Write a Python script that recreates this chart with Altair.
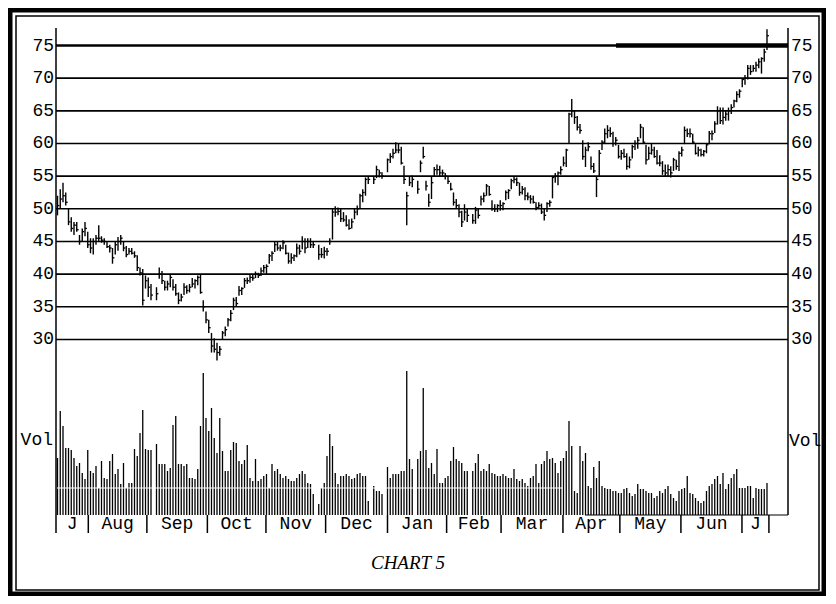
import altair as alt
import pandas as pd

# ---- daily bars (None = market holiday) ----
hi = [52, 53, 54, 52.5, 50, 48.7, 48, 48, 46, 47,
      48, 46.5, 45.5, 45.5, 46, 47.5, 45.8, 45.5, 45, 44.5,
      44, 45, 45.7, 46, 45, 44.3, 44, 44, 43.5, 42.9,
      41, 40.8, 39.8, 39.5, 38.5, None, 38, 41, 40.5, 39,
      39, 40, 39.2, 38.5, 37.2, 37, 38.6, 38.3, 38.5, 39.4,
      39.2, 39.8, 40, 36, 34.3, 33, 31, 30.2, 29.5, 29,
      31.3, 32, 33.3, 34.5, 36.4, 36.5, 38.2, 38, 39.4, 39.5,
      40, 40, 40.4, 40.2, 41, 41.4, 41.5, 43.1, 43.5, 45,
      45, 44.5, 45.2, 44.5, 43.3, 43.2, 43, 44.7, 44.5, 45.8,
      45.5, 45.5, 45.5, 45, None, 44.5, 44, 44.2, 44, 45.5,
      50, 50.4, 50.2, 50, 49.5, 49, 48.4, 48.5, 50, 50.5,
      52.3, 53, 54.8, 55, None, 55, 56.6, 56, 55.6, None,
      57.7, 58.5, 59.2, 60.2, 60, 59.5, 56.6, 52.6, 55, 55.1,
      None, 54.3, 57.4, 59.5, 54.3, 52.3, 55, 56.4, 56.8, 56.6,
      56, 55.5, 55, 54, 52.5, 51.5, 50.7, 49.7, 50.7, 50,
      None, 49.2, 50.3, 50, 52, 52.5, 53.8, 53.5, 51.3, 50.7,
      50.7, 51.3, 51, 52.8, 53, 54.6, 55, 54.8, 54, 53.5,
      53.3, 52.5, 52.1, 52, 51, 51, 50.8, 50, 51, 51.3,
      55, 55.5, 55.7, 56.5, 58, 59.2, 64.7, 66.8, 65, 64.2,
      63, 60.5, 59.5, 60.2, 58, 57, 55, 59, 60.5, 62.3,
      62.8, 62.5, 61.8, 61, 59.8, 59, 59.2, 58.5, 58, 59.8,
      60.5, 61, 63, 62.5, 59.8, 59.5, 60, 59.5, 59, 58.2,
      57.3, 56.8, 56.8, 56.5, 57.8, 57.5, 58.8, 59.5, 62.6, 62.3,
      62.3, 61.5, 59.9, 59.5, 59.2, 59, 60, 61.9, 62, 63.4,
      65.7, 65.5, 65.5, 65, 65.5, 66, 66.7, 68, 68.3, 70,
      70.5, 72, 72, 72, 72.5, 73, 73.2, 74.5, 77.5]
lo = [49, 50, 51, 50.5, 47.5, 46.5, 46, 46.5, 44.5, 45,
      45.8, 44, 43.2, 43, 44.5, 45, 44.8, 44.5, 44, 43.3,
      41.6, 43, 43.6, 44.5, 43.5, 42.6, 43, 43, 42.5, 40.5,
      39.8, 35.2, 37.8, 36.5, 36, None, 36, 39.3, 38.5, 37.5,
      37.5, 38, 37.5, 36.7, 35.4, 35.8, 36.8, 37, 37.2, 38,
      37.8, 38.3, 37, 34.3, 32.5, 31, 28, 28, 26.8, 27.5,
      30, 30.5, 32, 32.8, 34.5, 35, 36.7, 36.8, 37.9, 38.5,
      38.7, 39, 39.4, 39.4, 39.7, 40.2, 40, 41.6, 42, 43.4,
      43.6, 43.5, 43.8, 43, 41.6, 41.6, 42, 42.6, 43, 43.8,
      43.2, 44, 44, 44, None, 42.2, 42.5, 42.4, 42.8, 44.5,
      45.3, 48.8, 49, 48, 48, 47.3, 46.8, 47, 48.4, 49,
      50, 51, 52, 53.8, None, 53.8, 54.7, 54.8, 54.6, None,
      55.6, 57, 57.7, 58.5, 58.5, 56.8, 53.8, 47.5, 53.5, 53.3,
      None, 52.3, 55.6, 57.7, 52.8, 50.3, 51.5, 55, 55.2, 55,
      55, 54.5, 53.8, 52.8, 50.5, 50, 48.7, 47.2, 48.2, 48,
      None, 47.7, 47.7, 48.5, 50.5, 51, 52, 52, 49.7, 49.5,
      49.5, 49.7, 49.8, 51.3, 51.5, 53, 53.9, 53.5, 52, 52.2,
      51.3, 51.3, 50.8, 50.8, 49.8, 50, 49.2, 48.2, 49.5, 50.3,
      51.6, 54, 53.6, 55.2, 56.5, 56.4, 60, 64, 63, 62,
      61.5, 57.5, 56.4, 58.8, 56, 55.5, 51.8, 55, 59, 60,
      60.8, 61, 59.5, 59.7, 57.7, 57.5, 57.8, 56, 56.2, 57.7,
      59, 59.2, 60.8, 60, 56.8, 57.5, 58.3, 57.8, 56.8, 56.5,
      55.2, 55, 55, 54.8, 55.8, 56, 55.8, 58, 59.9, 61,
      60.9, 60, 58.3, 58, 58, 58, 58.5, 59.9, 60.5, 61.6,
      62.9, 63, 62.9, 63.5, 63.5, 64.5, 65.5, 66.3, 67, 68.6,
      69, 69.8, 70.5, 71, 71, 71.5, 70.7, 72.5, 74.3]
cl = [50.5, 51.5, 52, 51, 48, 47, 47.5, 46.8, 45, 46.5,
      47, 44.5, 44, 45, 45.5, 45.5, 45.2, 45, 44.2, 44,
      42.5, 44.5, 45, 45.5, 44, 43, 43.5, 43.2, 42.8, 41,
      40.2, 36, 39, 38, 36.8, None, 37, 40, 39, 38,
      38.5, 39.5, 38, 37, 36, 36.5, 38, 37.5, 38, 38.5,
      39, 39.5, 37.2, 35, 33, 31.8, 29, 28.5, 28, 28.5,
      31, 31.5, 33, 34, 36, 35.5, 37.5, 37.8, 39, 39,
      39.5, 39.4, 40, 39.8, 40.5, 41, 41.2, 42.8, 43.2, 44.5,
      44, 44, 44.8, 43.2, 42, 42.5, 42.8, 44, 43.5, 45,
      44, 45, 44.5, 44.5, None, 43, 43, 43.5, 43.5, 45,
      49.5, 49.5, 49.6, 48.5, 48.3, 47.5, 47, 48, 49.5, 50,
      52, 52.5, 54.5, 54.5, None, 54.5, 56, 55.5, 55, None,
      57.5, 58, 58.5, 59, 59, 57, 54.5, 52, 54, 54.5,
      None, 53, 57, 58, 53.5, 51, 54, 56, 56, 55.5,
      55.5, 55, 54.2, 53, 51, 50.5, 49.5, 48, 49.5, 49,
      None, 48.2, 49.8, 49, 51.5, 52, 53.5, 52.2, 50, 50,
      50.5, 50.5, 50.8, 52.5, 52.8, 54.3, 54.5, 54, 52.5, 53,
      52, 51.8, 51.5, 51, 50.2, 50.5, 49.5, 49, 50.8, 51,
      54.8, 55, 55.5, 56, 57, 59, 64.5, 65, 64, 62.5,
      62, 58, 59, 59.5, 56.5, 55.8, 54.5, 58.5, 60.2, 61.5,
      62, 61.5, 60, 60.5, 58, 58.5, 58, 56.5, 57.5, 59.5,
      60, 60.5, 62.5, 60.2, 57.5, 58.5, 59, 58, 57, 57,
      55.8, 55.5, 56, 55.5, 57.5, 56.5, 58.5, 59, 62, 61.5,
      61.5, 60.2, 58.5, 59, 58.3, 58.8, 59.8, 61.5, 61.5, 63,
      65, 63.5, 64, 64.5, 65, 65.5, 66.5, 67.5, 68, 69.8,
      70, 71.5, 71, 71.5, 72, 72.5, 73, 74, 76.5]
vol = [570, 1040, 890, 670, 670, 650, 570, 490, 520, 420,
       360, 650, 440, 420, 490, 270, 540, 370, 360, 540,
       610, 410, 460, 310, 520, 270, 320, 320, 660, 590,
       820, 1050, 660, 650, 650, None, 710, 510, 510, 510,
       440, 470, 900, 990, 510, 510, 490, 510, 370, 370,
       360, 460, 890, 1420, 970, 840, 1070, 770, 620, 970,
       640, 440, 440, 650, 730, 720, 540, 510, 550, 700,
       370, 340, 560, 340, 360, 390, 410, 270, 510, 440,
       460, 410, 370, 390, 360, 340, 340, 370, 410, 440,
       410, 320, 310, 210, None, 110, 270, 320, 590, 810,
       690, 420, 310, 390, 390, 410, 390, 360, 370, 410,
       420, 390, 390, 140, None, 290, 240, 240, 210, None,
       480, 370, 410, 410, 410, 440, 440, 1440, 560, 460,
       None, 560, 640, 1270, 650, 470, 520, 410, 660, 320,
       320, 370, 390, 540, 680, 560, 540, 520, 440, 440,
       None, 440, 520, 610, 440, 460, 440, 510, 420, 410,
       390, 390, 410, 390, 370, 370, 460, 360, 340, 360,
       320, 290, 370, 390, 510, 320, 510, 540, 640, 560,
       570, 520, 420, 540, 570, 640, 940, 690, 240, 220,
       690, 540, 620, 290, 270, 480, 370, 540, 290, 270,
       260, 260, 240, 240, 220, 220, 260, 270, 220, 190,
       210, 310, 260, 260, 240, 220, 220, 170, 190, 240,
       220, 260, 290, 210, 170, 140, 240, 260, 270, 390,
       220, 210, 170, 140, 120, 140, 240, 290, 310, 360,
       390, 310, 420, 260, 310, 370, 410, 460, 270, 270,
       270, 290, 290, 170, 270, 260, 260, 260, 320]

months = ["J", "Aug", "Sep", "Oct", "Nov", "Dec", "Jan",
          "Feb", "Mar", "Apr", "May", "Jun", "J"]
month_edges = [-0.55, 11.2, 32.5, 54.5, 75.8, 97.5, 120.0,
               141.5, 161.3, 183.8, 204.5, 226.7, 248.9, 258.7]
price_levels = [30, 35, 40, 45, 50, 55, 60, 65, 70, 75]
caption = "CHART 5"

# ---- tables ----
days = pd.DataFrame({"day": range(len(hi)), "hi": hi, "lo": lo,
                     "cl": cl, "vol": vol})
price = days.dropna(subset=["hi"]).copy()
price["tick_end"] = price["day"] + 0.7
volume = days.dropna(subset=["vol"]).copy()
volume["zero"] = 0
levels = pd.DataFrame({"lvl": price_levels[:-1]})
top_level = pd.DataFrame({"lvl": price_levels[-1:]})
all_levels = pd.DataFrame({"lvl": price_levels, "lab": [str(v) for v in price_levels]})
seps = pd.DataFrame({"edge": month_edges[1:]})
mlab = pd.DataFrame({"m": months,
                     "mid": [(a + b) / 2 for a, b in zip(month_edges[:-1], month_edges[1:])]})
one = pd.DataFrame({"k": [0]})

W, H = 732, 487
MONO = "Liberation Mono"
xs = alt.Scale(domain=[-0.545, 265.64], nice=False, zero=False)
ys = alt.Scale(domain=[3.13, 77.68], nice=False, zero=False)
vs = alt.Scale(domain=[0, 4870], nice=False, zero=False)

frame_outer = alt.Chart(one).mark_rect(fillOpacity=0, stroke="black", strokeWidth=5).encode(
    x=alt.value(-46), x2=alt.value(768), y=alt.value(-18), y2=alt.value(566))
frame_inner = alt.Chart(one).mark_rect(fillOpacity=0, stroke="black", strokeWidth=1.5).encode(
    x=alt.value(-40), x2=alt.value(763), y=alt.value(-12), y2=alt.value(562))

grid = alt.Chart(levels).mark_rule(color="black", strokeWidth=1.6).encode(
    y=alt.Y("lvl:Q", scale=ys, axis=None), x=alt.value(0), x2=alt.value(W))
grid_top = alt.Chart(top_level).mark_rule(color="black", strokeWidth=2.6).encode(
    y=alt.Y("lvl:Q", scale=ys, axis=None), x=alt.value(0), x2=alt.value(W))
grid_top_heavy = alt.Chart(top_level).mark_rule(color="black", strokeWidth=4.5).encode(
    y=alt.Y("lvl:Q", scale=ys, axis=None), x=alt.value(560), x2=alt.value(W))

lab_left = alt.Chart(all_levels).mark_text(font=MONO, fontSize=18, align="right",
                                           baseline="middle", color="black").encode(
    y=alt.Y("lvl:Q", scale=ys, axis=None), x=alt.value(-2), text="lab:N")
lab_right = alt.Chart(all_levels).mark_text(font=MONO, fontSize=18, align="left",
                                            baseline="middle", color="black").encode(
    y=alt.Y("lvl:Q", scale=ys, axis=None), x=alt.value(735), text="lab:N")

axis_left = alt.Chart(one).mark_rule(color="black", strokeWidth=1.5).encode(
    x=alt.value(0), y=alt.value(0), y2=alt.value(H + 18))
axis_right = alt.Chart(one).mark_rule(color="black", strokeWidth=1.5).encode(
    x=alt.value(W), y=alt.value(0), y2=alt.value(H))
base_line = alt.Chart(one).mark_rule(color="black", strokeWidth=1.2).encode(
    x=alt.value(529), x2=alt.value(W), y=alt.value(H))

vol_bars = alt.Chart(volume).mark_rule(color="black", strokeWidth=1.3).encode(
    x=alt.X("day:Q", scale=xs, axis=None),
    y=alt.Y("vol:Q", scale=vs, axis=None), y2="zero:Q")
vol_white = alt.Chart(one).mark_rule(color="white", strokeWidth=1).encode(
    x=alt.value(0), x2=alt.value(507), y=alt.value(460))

hl = alt.Chart(price).mark_rule(color="black", strokeWidth=1.4).encode(
    x=alt.X("day:Q", scale=xs, axis=None),
    y=alt.Y("lo:Q", scale=ys, axis=None), y2="hi:Q")
close_tick = alt.Chart(price).mark_rule(color="black", strokeWidth=1.3).encode(
    x=alt.X("day:Q", scale=xs, axis=None), x2="tick_end:Q",
    y=alt.Y("cl:Q", scale=ys, axis=None))

sep_rules = alt.Chart(seps).mark_rule(color="black", strokeWidth=1.5).encode(
    x=alt.X("edge:Q", scale=xs, axis=None), y=alt.value(H), y2=alt.value(H + 18))
month_text = alt.Chart(mlab).mark_text(font=MONO, fontSize=18, align="center",
                                        baseline="middle", color="black").encode(
    x=alt.X("mid:Q", scale=xs, axis=None), y=alt.value(H + 9), text="m:N")

vol_left = alt.Chart(one).mark_text(text="Vol", font=MONO, fontSize=18, align="right",
                                    baseline="middle", color="black").encode(
    x=alt.value(-3), y=alt.value(412))
vol_right = alt.Chart(one).mark_text(text="Vol", font=MONO, fontSize=18, align="left",
                                     baseline="middle", color="black").encode(
    x=alt.value(733), y=alt.value(413))
title = alt.Chart(one).mark_text(text=caption, font="Liberation Serif", fontSize=19,
                                 fontStyle="italic", align="center", baseline="middle",
                                 color="black").encode(
    x=alt.value(352), y=alt.value(535))

chart = alt.layer(
    frame_outer, frame_inner, vol_bars, vol_white, grid, grid_top, grid_top_heavy,
    hl, close_tick, axis_left, axis_right, base_line, lab_left, lab_right,
    sep_rules, month_text, vol_left, vol_right, title
).resolve_scale(y="independent").properties(
    width=W, height=H,
    padding={"left": 48, "top": 20, "right": 38, "bottom": 81},
    autosize=alt.AutoSizeParams(type="none"),
    background="white",
).configure_view(stroke=None)

chart.save("out.html", embed_options={"renderer": "svg", "actions": False})
